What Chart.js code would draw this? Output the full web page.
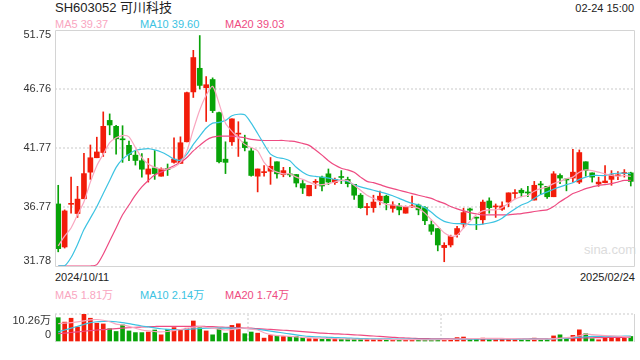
<!DOCTYPE html>
<html><head><meta charset="utf-8">
<script src="https://cdn.jsdelivr.net/npm/chart.js@4.4.1/dist/chart.umd.min.js"></script>
<style>
html,body{margin:0;padding:0;background:#fff;width:640px;height:360px;overflow:hidden;font-family:Arial,"Liberation Sans","Noto Sans CJK SC",sans-serif;}
.t{position:absolute;white-space:nowrap;font-size:11px;line-height:12px;color:#333;}
#w1{position:absolute;left:0;top:0;width:640px;height:280px;}
#w2{position:absolute;left:0;top:296px;width:640px;height:64px;}
</style></head><body>
<div class="t" style="left:55px;top:0px;font-size:13px;line-height:16px;color:#222">SH603052 可川科技</div>
<div class="t" style="right:6px;top:2px;color:#222">02-24 15:00</div>
<div class="t" style="left:55px;top:18px;color:#f9a6bf">MA5 39.37</div>
<div class="t" style="left:140px;top:18px;color:#3cc3e2">MA10 39.60</div>
<div class="t" style="left:225px;top:18px;color:#ee4b82">MA20 39.03</div>
<div class="t" style="left:55px;top:271px;color:#222">2024/10/11</div>
<div class="t" style="right:5px;top:271px;color:#222">2025/02/24</div>
<div class="t" style="left:55px;top:289px;color:#f9a6bf">MA5 1.81万</div>
<div class="t" style="left:140px;top:289px;color:#3cc3e2">MA10 2.14万</div>
<div class="t" style="left:225px;top:289px;color:#ee4b82">MA20 1.74万</div>
<div class="t" style="left:584px;top:243px;font-size:13px;line-height:14px;color:#dcdcdc">sina.com</div>
<div id="w1"><canvas id="c1" width="640" height="280"></canvas></div>
<div id="w2"><canvas id="c2" width="640" height="64"></canvas></div>
<script>
const dates = [
"2024-10-11","2024-10-14","2024-10-15","2024-10-16","2024-10-17","2024-10-18","2024-10-21","2024-10-22","2024-10-23","2024-10-24","2024-10-25","2024-10-28","2024-10-29","2024-10-30","2024-10-31",
"2024-11-01","2024-11-04","2024-11-05","2024-11-06","2024-11-07","2024-11-08","2024-11-11","2024-11-12","2024-11-13","2024-11-14","2024-11-15","2024-11-18","2024-11-19","2024-11-20","2024-11-21","2024-11-22","2024-11-25","2024-11-26","2024-11-27","2024-11-28","2024-11-29",
"2024-12-02","2024-12-03","2024-12-04","2024-12-05","2024-12-06","2024-12-09","2024-12-10","2024-12-11","2024-12-12","2024-12-13","2024-12-16","2024-12-17","2024-12-18","2024-12-19","2024-12-20","2024-12-23","2024-12-24","2024-12-25","2024-12-26","2024-12-27","2024-12-30","2024-12-31",
"2025-01-02","2025-01-03","2025-01-06","2025-01-07","2025-01-08","2025-01-09","2025-01-10","2025-01-13","2025-01-14","2025-01-15","2025-01-16","2025-01-17","2025-01-20","2025-01-21","2025-01-22","2025-01-23","2025-01-24","2025-01-27",
"2025-02-05","2025-02-06","2025-02-07","2025-02-10","2025-02-11","2025-02-12","2025-02-13","2025-02-14","2025-02-17","2025-02-18","2025-02-19","2025-02-20","2025-02-21","2025-02-24"];

const opens = [37.03,33.39,37.00,36.22,37.47,39.72,40.94,41.38,44.10,43.60,42.49,41.99,41.16,40.69,39.55,40.08,39.38,40.00,40.55,40.46,
42.29,46.51,48.51,46.87,47.56,44.76,40.82,42.29,42.94,42.27,41.52,39.38,39.68,39.80,40.60,39.52,39.52,39.52,38.75,37.72,
38.86,39.30,39.58,38.83,39.30,39.11,38.69,37.77,36.72,36.72,37.30,37.69,36.66,36.86,36.25,36.78,36.94,36.72,35.28,34.95,
33.34,33.56,34.45,35.33,36.61,35.85,35.69,37.28,36.78,36.58,37.19,37.91,38.19,37.98,37.36,38.67,38.52,37.64,39.44,39.08,
39.22,38.88,40.60,39.66,38.72,38.83,39.11,39.41,39.60,39.66];
const highs = [38.61,36.53,39.30,38.52,41.32,42.02,42.68,44.82,44.65,43.68,43.65,42.35,41.52,41.30,40.88,41.55,40.08,40.41,42.63,42.71,
46.50,50.03,51.28,47.81,47.70,44.80,42.29,44.23,43.99,42.85,41.80,39.99,40.27,40.96,40.60,40.13,40.13,39.52,39.02,38.61,
39.10,39.38,39.99,39.22,39.85,39.30,38.69,37.91,37.08,37.77,38.13,37.77,37.22,37.08,36.86,37.69,37.02,36.80,35.61,34.95,
33.75,34.39,35.14,36.67,36.69,35.92,37.36,37.55,37.03,37.22,37.97,38.25,38.33,38.52,38.94,38.94,38.52,39.77,39.58,39.16,
41.66,41.60,40.60,39.66,39.30,40.27,39.85,39.77,39.94,39.72];
const lows = [32.98,33.30,36.25,35.89,37.47,39.11,40.94,41.05,42.88,41.24,40.55,40.69,40.32,39.30,38.88,39.11,39.38,39.44,40.49,40.46,
42.29,46.04,46.76,44.01,44.76,40.50,39.60,41.99,41.05,41.52,39.38,38.05,39.38,38.69,39.22,39.33,39.33,38.47,37.91,37.72,
38.33,38.14,38.66,38.69,38.75,38.47,37.41,36.66,36.11,36.33,36.94,36.53,36.33,36.11,36.25,36.72,36.11,35.28,34.45,33.06,
32.14,33.39,34.22,35.00,35.69,34.86,35.33,36.25,35.89,36.48,36.80,37.50,37.64,37.64,37.36,37.83,37.50,37.64,38.75,38.14,
38.88,38.75,39.38,38.88,38.52,38.80,38.61,39.08,39.30,38.55];
const closes = [33.25,36.44,37.08,37.44,39.60,40.94,41.43,43.60,43.71,42.54,42.46,41.21,40.71,39.97,39.99,39.60,39.99,39.95,40.82,42.21,
46.45,49.42,47.06,47.12,44.93,40.60,40.55,44.23,42.97,41.80,39.44,39.99,39.72,40.22,39.58,39.85,39.49,38.80,38.38,38.61,
38.90,38.55,38.88,39.11,39.27,38.75,37.77,36.72,36.75,37.19,37.69,37.14,36.94,36.53,36.75,36.81,36.53,35.61,34.72,33.56,
33.53,34.28,34.95,36.30,36.50,35.83,37.19,36.72,36.81,36.86,37.97,37.93,37.97,37.96,38.61,38.64,37.64,39.58,39.22,39.06,
39.72,41.38,39.85,39.30,38.88,38.97,39.49,39.44,39.66,38.94];

const ma5 = [33.48,34.31,35.00,36.11,37.22,38.88,40.27,41.24,42.21,42.63,42.82,42.71,41.80,40.96,40.41,40.13,39.99,39.99,40.13,40.55,
41.52,43.32,44.98,46.23,46.98,45.54,43.87,43.18,42.63,42.07,41.80,41.52,40.55,39.99,39.72,39.58,39.58,39.30,39.11,38.88,
38.66,38.66,38.75,38.88,39.02,39.02,38.61,38.19,37.77,37.50,37.22,36.99,36.94,36.86,36.81,36.81,36.67,36.25,35.69,35.14,
34.59,34.31,34.39,35.00,35.56,36.11,36.44,36.53,36.53,36.72,37.08,37.44,37.64,37.77,38.11,38.33,38.47,38.75,38.94,39.16,
39.30,39.72,39.91,39.85,39.72,39.58,39.44,39.38,39.44,39.37];
const ma10 = [31.78,31.80,32.50,33.60,34.86,35.83,36.80,37.91,39.02,40.13,40.82,41.24,41.57,41.66,41.71,41.60,41.43,41.16,40.82,40.74,
41.24,42.07,42.77,43.46,43.87,43.93,44.10,44.49,44.62,44.57,43.87,42.99,42.07,41.24,40.96,40.88,40.69,40.13,39.72,39.44,
39.36,39.30,39.22,39.11,39.02,38.94,38.66,38.47,38.33,38.19,38.05,37.91,37.72,37.50,37.27,37.08,36.94,36.72,36.33,35.89,
35.56,35.42,35.36,35.36,35.28,35.28,35.33,35.42,35.56,35.83,36.25,36.61,36.94,37.16,37.50,37.83,38.05,38.27,38.47,38.66,
38.83,39.11,39.30,39.44,39.44,39.44,39.58,39.63,39.63,39.60];
const ma20 = [31.78,31.78,31.78,31.78,31.78,31.78,31.90,32.78,33.89,35.00,36.11,36.94,37.77,38.47,39.02,39.49,39.72,39.99,40.27,40.55,
40.96,41.52,41.99,42.43,42.68,42.77,42.77,42.77,42.71,42.63,42.49,42.43,42.40,42.40,42.40,42.40,42.35,42.29,42.15,41.99,
41.60,41.16,40.69,40.32,40.05,39.91,39.72,39.30,38.94,38.83,38.66,38.47,38.33,38.19,38.05,37.91,37.77,37.64,37.50,37.27,
37.08,36.81,36.61,36.44,36.30,36.19,36.11,36.11,36.11,36.11,36.11,36.17,36.22,36.30,36.39,36.47,36.53,36.81,37.22,37.55,
37.91,38.11,38.33,38.47,38.61,38.66,38.75,38.88,39.02,39.03];

const volumes = [8.91,7.29,8.71,5.47,10.26,8.71,6.89,6.62,4.86,3.85,6.28,4.05,3.44,3.44,3.65,4.39,2.63,4.66,5.27,4.46,
5.06,7.70,5.27,4.05,2.63,5.06,3.24,6.08,6.68,3.04,3.65,3.24,1.42,2.43,2.23,2.03,2.03,2.03,1.62,1.22,
1.22,1.01,1.69,1.22,1.01,1.22,1.01,1.01,1.01,1.01,1.01,1.01,0.61,0.81,0.81,0.81,0.61,0.81,0.81,0.81,
0.81,0.81,1.62,1.82,1.01,1.01,1.42,0.81,0.81,1.01,1.01,1.01,0.81,0.81,1.42,0.81,0.81,2.23,2.63,1.22,
2.43,4.46,3.04,1.22,0.81,1.82,2.03,1.42,1.42,2.03];
const vma5 = [6.75,6.90,7.09,7.40,7.76,8.10,8.24,7.97,7.43,6.55,6.28,5.74,5.06,4.39,4.05,3.85,3.71,3.85,4.19,4.59,
4.93,5.40,5.60,5.40,5.06,4.73,4.39,4.59,4.93,5.06,4.73,4.39,3.38,2.70,2.36,2.23,2.09,1.89,1.69,1.55,
1.45,1.40,1.30,1.20,1.15,1.08,1.02,1.01,1.00,1.00,1.00,0.95,0.90,0.88,0.85,0.85,0.83,0.80,0.80,0.82,
0.85,0.95,1.05,1.15,1.25,1.28,1.30,1.35,1.35,1.30,1.25,1.22,1.15,1.05,1.01,1.05,1.10,1.15,1.35,1.60,
1.82,2.30,2.90,2.70,2.50,2.35,2.23,2.10,1.95,1.81];
const vma10 = [3.71,4.39,5.06,5.74,6.41,7.09,7.43,7.56,7.56,7.43,7.09,6.75,6.28,5.87,5.54,5.20,4.86,4.66,4.52,4.52,
4.66,4.79,4.93,5.06,5.06,5.06,5.06,5.06,5.00,4.95,4.85,4.65,4.35,4.00,3.65,3.30,2.95,2.60,2.30,2.05,
1.90,1.82,1.72,1.63,1.55,1.45,1.36,1.28,1.22,1.18,1.15,1.12,1.10,1.08,1.05,1.03,1.01,1.00,0.98,0.96,
0.95,0.95,0.98,1.02,1.05,1.08,1.10,1.12,1.12,1.12,1.10,1.08,1.06,1.04,1.02,1.02,1.05,1.15,1.25,1.38,
1.55,1.75,1.90,2.03,2.08,2.10,2.09,2.10,2.12,2.14];
const vma20 = [3.04,3.26,3.48,3.71,3.94,4.16,4.39,4.56,4.73,4.90,5.06,5.23,5.40,5.50,5.60,5.67,5.74,5.74,5.74,5.74,
5.74,5.74,5.74,5.67,5.60,5.50,5.40,5.30,5.20,5.13,5.06,4.90,4.75,4.60,4.45,4.30,4.15,3.98,3.80,3.60,
3.42,3.24,3.12,3.00,2.90,2.77,2.63,2.50,2.35,2.20,2.03,1.87,1.71,1.55,1.46,1.37,1.28,1.24,1.19,1.15,
1.15,1.15,1.15,1.15,1.15,1.15,1.15,1.15,1.15,1.15,1.15,1.15,1.17,1.20,1.22,1.24,1.26,1.28,1.33,1.38,
1.42,1.46,1.51,1.55,1.60,1.64,1.69,1.71,1.73,1.74];

const priceTicks = [31.78,36.77,41.77,46.76,51.75];
const volTicks = [0,10.26];

const RED = '#f21c0a', GREEN = '#08a308';
const C5 = '#f9a6bf', C10 = '#3cc3e2', C20 = '#ee4b82';
const FONT = 'Arial, "Liberation Sans", "Noto Sans CJK SC", sans-serif';
Chart.defaults.font.family = FONT;
Chart.defaults.animation = false;

const upColor = opens.map((o,i)=> closes[i] >= o ? RED : GREEN);

const framePlugin = {
  id: 'frame',
  afterDraw(chart, args, opts) {
    const {ctx, chartArea: a} = chart;
    ctx.save();
    ctx.strokeStyle = '#d4d4d4';
    ctx.lineWidth = 1;
    ctx.setLineDash([]);
    ctx.beginPath();
    if (opts.full) {
      ctx.rect(Math.round(a.left)+0.5, Math.round(a.top)+0.5, Math.round(a.right-a.left), Math.round(a.bottom-a.top));
    } else {
      ctx.moveTo(Math.round(a.left)+0.5, a.top); ctx.lineTo(Math.round(a.left)+0.5, a.bottom);
      ctx.moveTo(Math.round(a.right)+0.5, a.top); ctx.lineTo(Math.round(a.right)+0.5, a.bottom);
    }
    ctx.stroke();
    ctx.restore();
  }
};

function lineDs(data, color, yID) {
  return {type:'line', data, borderColor: color, borderWidth: 1.2, pointRadius: 0, tension: 0.25, order: 0, yAxisID: yID};
}

new Chart(document.getElementById('c1'), {
  type: 'bar',
  data: {
    labels: dates,
    datasets: [
      lineDs(ma5, C5, 'y'),
      lineDs(ma10, C10, 'y'),
      lineDs(ma20, C20, 'y'),
      {data: opens.map((o,i)=>[o, closes[i]]), backgroundColor: upColor, barThickness: 5, minBarLength: 1, grouped: false, order: 1, borderWidth: 0},
      {data: lows.map((l,i)=>[l, highs[i]]), backgroundColor: upColor, barThickness: 1, grouped: false, order: 2, borderWidth: 0}
    ]
  },
  options: {
    responsive: false,
    events: [],
    layout: {padding: {top: 30, right: 6, bottom: 10, left: 0}},
    plugins: {legend: {display: false}, tooltip: {enabled: false}, frame: {full: true}},
    scales: {
      x: {display: false},
      y: {
        min: 31.78, max: 51.75,
        afterBuildTicks: s => { s.ticks = priceTicks.map(v => ({value: v})); },
        afterFit: s => { s.width = 55; },
        border: {display: false, dash: [2,2]},
        grid: {
          color: c => (c.index === 0 || c.index === priceTicks.length-1) ? 'rgba(0,0,0,0)' : '#e4e4e4',
          lineWidth: 2, drawTicks: false
        },
        ticks: {
          padding: 4, color: '#333',
          font: {size: 11, lineHeight: '10px'},
          callback: function(v, i) {
            const t = Number(v).toFixed(2);
            if (i === 0) return [t, ''];
            if (i === priceTicks.length-1) return ['', t];
            return t;
          }
        }
      }
    }
  },
  plugins: [framePlugin]
});

new Chart(document.getElementById('c2'), {
  type: 'bar',
  data: {
    labels: dates,
    datasets: [
      lineDs(vma5, C5, 'y'),
      lineDs(vma10, C10, 'y'),
      lineDs(vma20, C20, 'y'),
      {data: volumes, backgroundColor: upColor, barThickness: 4, order: 1, borderWidth: 0}
    ]
  },
  options: {
    responsive: false,
    events: [],
    layout: {padding: {top: 8, right: 6, bottom: 5, left: 0}},
    plugins: {legend: {display: false}, tooltip: {enabled: false}, frame: {full: false}},
    scales: {
      x: {
        display: true,
        afterFit: s => { s.height = 0; },
        ticks: {display: false},
        border: {display: false, dash: [2,2]},
        grid: {
          offset: true, drawTicks: false, lineWidth: 2,
          color: c => (c.index === 30 || c.index === 60) ? '#e4e4e4' : 'rgba(0,0,0,0)'
        }
      },
      y: {
        min: 0, max: 10.26,
        afterBuildTicks: s => { s.ticks = volTicks.map(v => ({value: v})); },
        afterFit: s => { s.width = 55; },
        border: {display: false, dash: [2,2]},
        grid: {
          color: c => c.index === volTicks.length-1 ? '#e4e4e4' : 'rgba(0,0,0,0)',
          lineWidth: 2, drawTicks: false
        },
        ticks: {
          padding: 4, color: '#333',
          font: {size: 11, lineHeight: '14px'},
          callback: function(v, i) {
            if (i === 0) return ['0', ''];
            return ['', Number(v).toFixed(2) + '万'];
          }
        }
      }
    }
  },
  plugins: [framePlugin]
});
</script>
</body></html>
